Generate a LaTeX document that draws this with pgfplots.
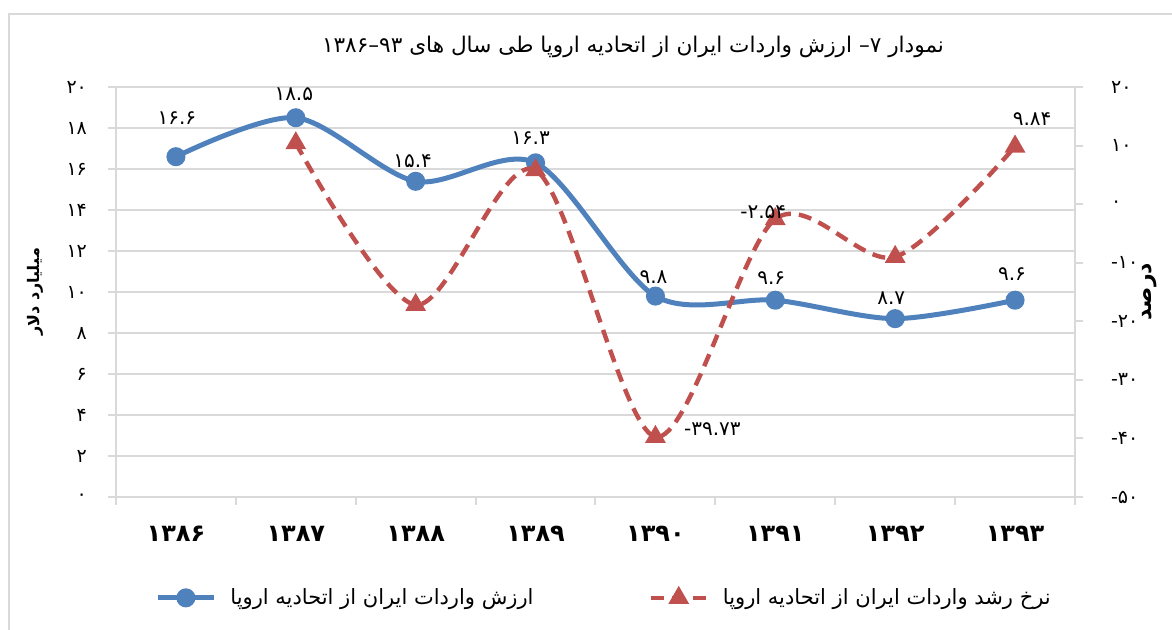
\documentclass[border=0pt]{standalone}
\usepackage{fontspec}
\usepackage{pgfplots}
\pgfplotsset{compat=1.18}
\usepackage{pgfplotstable}
\TeXXeTstate=1
\setmainfont{DejaVu Sans}
\newfontfamily\arabicfont[Script=Arabic]{DejaVu Sans}
\definecolor{blueS}{HTML}{4F81BD}
\definecolor{redS}{HTML}{C0504D}
\definecolor{gridc}{HTML}{D9D9D9}
\newcommand\mn[1]{\hbox{-}\hbox{#1}}

\pgfplotstableread{
x y lab dx dy
0 16.6 ۱۶.۶ 0.5 19.5
1 18.5 ۱۸.۵ -1 12
2 15.4 ۱۵.۴ -1.5 10
3 16.3 ۱۶.۳ -2.5 12.5
4 9.8 ۹.۸ -1 9.5
5 9.6 ۹.۶ -2 11
6 8.7 ۸.۷ -2 10
7 9.6 ۹.۶ -1.5 13
}\bluedata

\pgfplotstableread{
x y lab dx dy
1 10.4 {} 0 0
2 -17.2 {} 0 0
3 5.8 {} 0 0
4 -39.73 \mn{۳۹.۷۳} 28.5 4
5 -2.54 \mn{۲.۵۴} -6 3.5
6 -9.0 {} 0 0
7 9.84 ۹.۸۴ 8.5 13.5
}\reddata

\pgfplotsset{
  common/.style={
    scale only axis, width=479.5pt, height=205pt,
    xmin=-0.5, xmax=7.5,
    tick align=outside,
    major tick length=4pt,
    tick style={gridc, line width=1pt},
    axis line style={gridc, line width=1pt},
    ticklabel style={font=\arabicfont\fontsize{9.5}{10}\selectfont, text=black},
    clip=false,
  },
  lbl/.style={
    point meta=explicit symbolic,
    nodes near coords={\pgfplotspointmeta},
    visualization depends on={\thisrow{dx}\as\dx},
    visualization depends on={\thisrow{dy}\as\dy},
    every node near coord/.append style={anchor=center, xshift=\dx pt, yshift=\dy pt,
      font=\arabicfont\fontsize{10}{11}\selectfont, text=black, inner sep=0pt},
  },
}

\begin{document}
\begin{tikzpicture}
\useasboundingbox (-58pt,-66.5pt) rectangle (528pt,248.5pt);
\draw[gridc, line width=1pt] (-53.5pt,-90pt) -- (-53.5pt,241.5pt) -- (560pt,241.5pt);

\begin{axis}[common,
  ymin=0, ymax=20,
  axis x line*=bottom, axis y line*=left,
  ytick={0,2,...,20},
  yticklabels={۰,۲,۴,۶,۸,۱۰,۱۲,۱۴,۱۶,۱۸,۲۰},
  yticklabel style={xshift=-7pt},
  ymajorgrids, grid style={gridc, line width=1pt},
  xtick={-0.5,0.5,...,7.5}, xticklabels={},
  extra x ticks={0,1,2,3,4,5,6,7},
  extra x tick labels={۱۳۸۶,۱۳۸۷,۱۳۸۸,۱۳۸۹,۱۳۹۰,۱۳۹۱,۱۳۹۲,۱۳۹۳},
  extra x tick style={tick style={draw=none},
    ticklabel style={font=\arabicfont\bfseries\fontsize{12}{13}\selectfont, yshift=-7pt}},
]
\addplot[blueS, line width=2.5pt, smooth, mark=*, mark size=3.5pt,
  mark options={solid, fill=blueS, draw=blueS}, lbl]
  table[x=x, y=y, meta=lab] {\bluedata};
\end{axis}

\begin{axis}[common,
  ymin=-50, ymax=20,
  axis x line=none, axis y line*=right,
  ytick={-50,-40,...,20},
  yticklabels={\mn{۵۰},\mn{۴۰},\mn{۳۰},\mn{۲۰},\mn{۱۰},۰,۱۰,۲۰},
  yticklabel style={xshift=10.5pt, anchor=west},
  legend columns=2,
  legend style={at={(axis description cs:0.51,-0.246)}, anchor=center, draw=none,
    fill=none, font=\arabicfont\fontsize{10.5}{12}\selectfont,
    /tikz/every even column/.append style={column sep=55.5pt},
    /tikz/every odd column/.append style={column sep=5pt}},
  legend image code/.code={\draw[mark repeat=2, mark phase=2, #1]
    plot coordinates {(0pt,0pt) (14pt,0pt) (28pt,0pt)};},
]
\addlegendimage{blueS, line width=2.5pt, mark=*, mark size=3.5pt,
  mark options={solid, fill=blueS, draw=blueS}}
\addlegendentry{\beginR ارزش واردات ایران از اتحادیه اروپا\endR}
\addplot[redS, line width=2.2pt, smooth, dash pattern=on 6.5pt off 4pt,
  mark=triangle*, mark size=3.8pt,
  mark options={solid, fill=redS, draw=redS}, lbl]
  table[x=x, y=y, meta=lab] {\reddata};
\addlegendentry{\beginR نرخ رشد واردات ایران از اتحادیه اروپا\endR}
\end{axis}

\node[font=\arabicfont\fontsize{10.8}{12}\selectfont] at (258.5pt,225pt)
  {\beginR نمودار \beginL۷–\endL{} ارزش واردات ایران از اتحادیه اروپا طی سال های \beginL۹۳–۱۳۸۶\endL\endR};
\node[font=\arabicfont\bfseries\fontsize{8}{10}\selectfont, rotate=90] at (-40.5pt,102.5pt)
  {\beginR میلیارد دلار\endR};
\node[font=\arabicfont\bfseries\fontsize{11}{12}\selectfont, rotate=90] at (517pt,102.5pt)
  {\beginR درصد\endR};
\end{tikzpicture}
\end{document}
